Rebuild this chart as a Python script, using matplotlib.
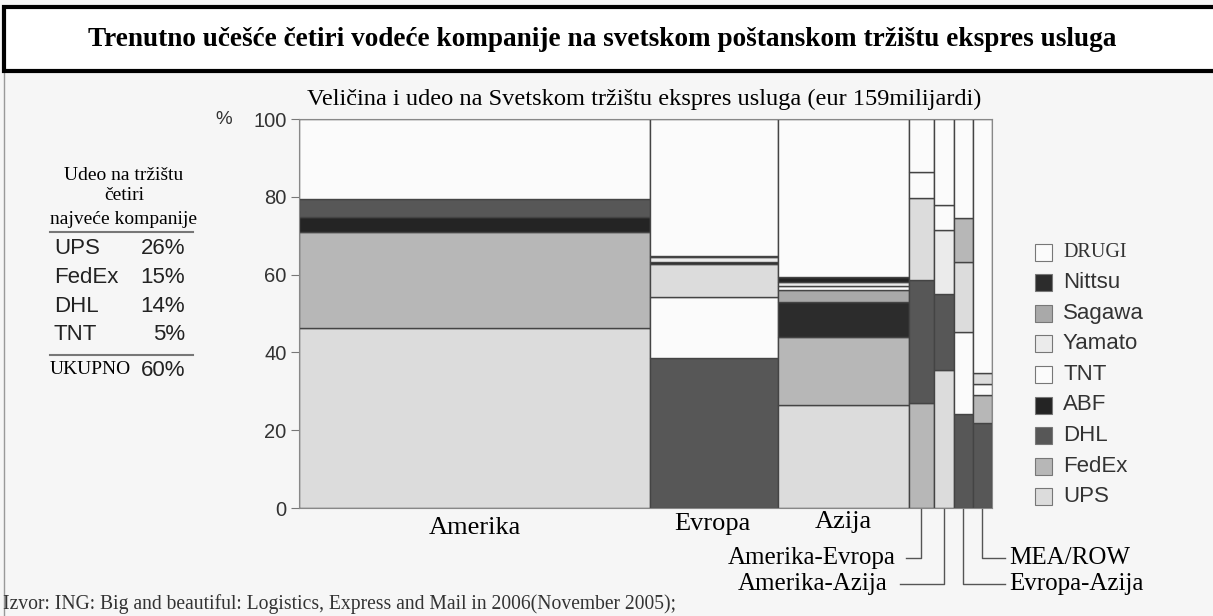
"""
    marimekko chart: express market share by region
"""
import numpy as np
import matplotlib as mpl
mpl.use("Agg")
import matplotlib.pyplot as plt
from matplotlib.patches import Rectangle
from matplotlib.lines import Line2D

W, H = 1213, 616

# data
markets = ["Amerika", "Evropa", "Azija", "Amerika-Evropa", "Amerika-Azija", "Evropa-Azija", "MEA/ROW"]
market_size = [80.5, 29.4, 30.0, 5.7, 4.6, 4.4, 4.4]   # eur milijardi, total 159

companies = ["UPS", "FedEx", "DHL", "ABF", "TNT", "Yamato", "Sagawa", "Nittsu", "DRUGI"]
colors = ["#dcdcdc", "#b7b7b7", "#575757", "#242424", "#fbfbfb", "#ebebeb", "#a9a9a9", "#2c2c2c", "#fbfbfb"]

# stacked segments per market, bottom to top (company, share %)
seg_amerika = [("UPS", 46.3), ("FedEx", 24.7), ("ABF", 3.7), ("DHL", 4.7), ("DRUGI", 20.6)]
seg_evropa = [("DHL", 38.5), ("TNT", 15.8), ("UPS", 8.4), ("ABF", 0.5), ("Yamato", 1.2), ("Nittsu", 0.5), ("DRUGI", 35.1)]
seg_azija = [("UPS", 26.5), ("FedEx", 17.5), ("Nittsu", 9.0), ("Sagawa", 3.0), ("TNT", 1.0), ("Yamato", 1.0), ("ABF", 1.3), ("DRUGI", 40.7)]
seg_am_ev = [("FedEx", 26.9), ("DHL", 31.7), ("UPS", 21.2), ("TNT", 6.5), ("DRUGI", 13.7)]
seg_am_az = [("UPS", 35.5), ("DHL", 19.4), ("Yamato", 16.6), ("TNT", 6.4), ("DRUGI", 22.1)]
seg_ev_az = [("DHL", 24.2), ("TNT", 21.1), ("UPS", 17.9), ("FedEx", 11.3), ("DRUGI", 25.5)]
seg_mea = [("DHL", 21.9), ("FedEx", 7.1), ("TNT", 2.9), ("UPS", 2.7), ("DRUGI", 65.4)]
segments = [seg_amerika, seg_evropa, seg_azija, seg_am_ev, seg_am_az, seg_ev_az, seg_mea]

top4 = ["UPS", "FedEx", "DHL", "TNT"]
top4_share = ["26%", "15%", "14%", "5%"]
total_share = "60%"

serif = "Liberation Serif"
sans = "Liberation Sans"
col = dict(zip(companies, colors))


def fx(x):
    return x / W


def fy(y):
    return 1 - y / H


fig = plt.figure(figsize=(W / 100, H / 100), dpi=100)
fig.patch.set_facecolor("#f6f6f6")
renderer = fig.canvas.get_renderer()


def fit_width(t, target_px):
    # scale a text so it spans about target_px pixels
    w = t.get_window_extent(renderer).width
    t.set_fontsize(t.get_fontsize() * target_px / w)


# title box
fig.patches.append(Rectangle((fx(4), fy(71)), fx(1215), 64 / H, transform=fig.transFigure,
                             facecolor="white", edgecolor="black", linewidth=3, zorder=5))
title = fig.text(fx(602), fy(40), "Trenutno učešće četiri vodeće kompanije na svetskom poštanskom tržištu ekspres usluga",
                 family=serif, weight="bold", fontsize=19, ha="center", va="center", zorder=6)
fit_width(title, 1025)
fig.lines.append(Line2D([fx(4), fx(4)], [fy(72), 0], transform=fig.transFigure, color="#999999", lw=1))

sub = fig.text(fx(644), fy(99), "Veličina i udeo na Svetskom tržištu ekspres usluga (eur 159milijardi)",
               family=serif, fontsize=17, ha="center", va="center")
fit_width(sub, 676)

# main axes
ax = fig.add_axes([fx(299), fy(508), 693 / W, 389 / H])
ax.set_facecolor("#f6f6f6")
lefts = np.concatenate([[0], np.cumsum(market_size)[:-1]])
for left, width, segs in zip(lefts, market_size, segments):
    bottom = 0
    for comp, val in segs:
        ax.bar(left, val, width=width, bottom=bottom, align="edge", color=col[comp],
               edgecolor="#444444", linewidth=1)
        bottom += val
ax.set_xlim(0, sum(market_size))
ax.set_ylim(0, 100)
ax.set_yticks([0, 20, 40, 60, 80, 100])
ax.tick_params(axis="y", labelsize=14.5, length=6, color="#777777", pad=3)
for lab in ax.get_yticklabels():
    lab.set_family(sans)
    lab.set_color("#333333")
ax.set_xticks([])
for s in ax.spines.values():
    s.set_color("#888888")
fig.text(fx(224), fy(120), "%", family=sans, fontsize=13.5, color="#333333", ha="center", va="center")

# category labels
centers = lefts + np.array(market_size) / 2
to_fig = lambda xd: fig.transFigure.inverted().transform(ax.transData.transform((xd, 0)))[0]
for i, ypx in [(0, 528), (1, 524), (2, 522)]:
    fig.text(to_fig(centers[i]) + fx(-2 if i == 1 else 0), fy(ypx), markets[i], family=serif, fontsize=19,
             ha="center", va="center")

# connector labels for the small markets
conn = [(3, 558, 906, 812, "center"), (4, 584, 900, 813, "center"),
        (5, 584, 1005, 1009, "left"), (6, 558, 1005, 1009, "left")]
for i, ypx, xend, xt, ha in conn:
    xc = to_fig(centers[i])
    fig.lines.append(Line2D([xc, xc, fx(xend)], [fy(509), fy(ypx), fy(ypx)],
                            transform=fig.transFigure, color="#555555", lw=1))
    fig.text(fx(xt), fy(ypx), markets[i], family=serif, fontsize=18, ha=ha, va="center")

# left table
for txt, y in [("Udeo na tržištu", 175), ("četiri", 196), ("najveće kompanije", 219)]:
    fig.text(fx(124), fy(y), txt, family=serif, fontsize=14, ha="center", va="center")
fig.lines.append(Line2D([fx(50), fx(193)], [fy(232), fy(232)], transform=fig.transFigure, color="#777777", lw=1.5))
for k, (name, val) in enumerate(zip(top4, top4_share)):
    y = 249 + k * 28.5
    fig.text(fx(54), fy(y), name, family=sans, fontsize=16, color="#222222", ha="left", va="center")
    fig.text(fx(185), fy(y), val, family=sans, fontsize=16, color="#222222", ha="right", va="center")
fig.lines.append(Line2D([fx(50), fx(193)], [fy(355), fy(355)], transform=fig.transFigure, color="#777777", lw=1.5))
fig.text(fx(50), fy(370), "UKUPNO", family=serif, fontsize=14, ha="left", va="center")
fig.text(fx(185), fy(370), total_share, family=sans, fontsize=16, color="#222222", ha="right", va="center")

# legend, top entry first
for k, comp in enumerate(companies[::-1]):
    y = 252 + k * 30.6
    fig.patches.append(Rectangle((fx(1035), fy(y + 8.5)), 17 / W, 17 / H, transform=fig.transFigure,
                                 facecolor=col[comp], edgecolor="#777777", linewidth=0.8))
    fam = serif if comp == "DRUGI" else sans
    size = 14.5 if comp == "DRUGI" else 16
    fig.text(fx(1063), fy(y), comp, family=fam, fontsize=size, color="#333333", ha="left", va="center")

# source
src = fig.text(fx(3), fy(604), "Izvor: ING: Big and beautiful: Logistics, Express and Mail in 2006(November 2005);",
               family=serif, fontsize=13, color="#333333", ha="left", va="center")
fit_width(src, 669)

fig.savefig("out.png", dpi=100, facecolor=fig.get_facecolor())
